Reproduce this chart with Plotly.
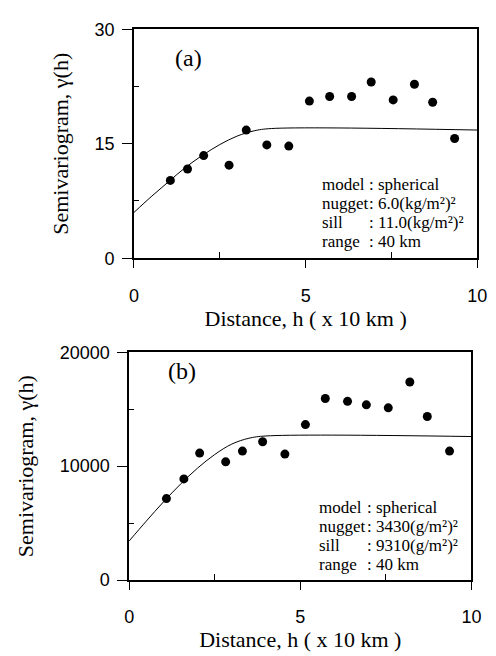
import plotly.graph_objects as go

# ---- data ----
# panel (a)
h_a = [1.06, 1.56, 2.03, 2.77, 3.27, 3.87, 4.51, 5.11, 5.70, 6.34, 6.91, 7.55, 8.17, 8.70, 9.34]
g_a = [10.2, 11.7, 13.45, 12.2, 16.8, 14.85, 14.7, 20.6, 21.2, 21.2, 23.1, 20.75, 22.8, 20.45, 15.7]
model_h_a = [0, 0.5, 1, 1.5, 2, 2.5, 3, 3.5, 4, 10]
model_g_a = [6.0, 8.06, 10.0, 11.9, 13.5, 14.9, 16.0, 16.7, 17.0, 16.8]

# panel (b)
h_b = [1.09, 1.60, 2.06, 2.82, 3.31, 3.90, 4.55, 5.15, 5.73, 6.38, 6.93, 7.57, 8.20, 8.71, 9.36]
g_b = [7150, 8880, 11150, 10380, 11320, 12140, 11060, 13650, 15940, 15690, 15380, 15120, 17390, 14360, 11320]
model_h_b = [0, 0.5, 1, 1.5, 2, 2.5, 3, 3.5, 4, 10]
model_g_b = [3430, 5170, 6850, 8420, 9830, 11020, 11940, 12450, 12650, 12600]

xticks = [0, 5, 10]
yticks_a = [0, 15, 30]
yticks_b = [0, 10000, 20000]

label_lines = ["model", "nugget", "sill", "range"]
value_lines_a = [": spherical", ": 6.0(kg/m²)²", ": 11.0(kg/m²)²", ": 40 km"]
value_lines_b = [": spherical", ": 3430(g/m²)²", ": 9310(g/m²)²", ": 40 km"]

W, H = 496, 656
SERIF = "Liberation Serif"
SANS = "Liberation Sans"

fig = go.Figure()
fig.add_trace(go.Scatter(x=model_h_a, y=model_g_a, mode="lines", line=dict(color="black", width=1, shape="spline"),
                         xaxis="x", yaxis="y", showlegend=False))
fig.add_trace(go.Scatter(x=h_a, y=g_a, mode="markers", marker=dict(color="black", size=9),
                         xaxis="x", yaxis="y", showlegend=False))
fig.add_trace(go.Scatter(x=model_h_b, y=model_g_b, mode="lines", line=dict(color="black", width=1, shape="spline"),
                         xaxis="x2", yaxis="y2", showlegend=False))
fig.add_trace(go.Scatter(x=h_b, y=g_b, mode="markers", marker=dict(color="black", size=9),
                         xaxis="x2", yaxis="y2", showlegend=False))


def xax(domain, anchor):
    return dict(domain=domain, anchor=anchor, range=[0, 10], tickvals=xticks,
                ticks="outside", ticklen=8, tickwidth=1.2, tickcolor="black",
                minor=dict(tickvals=[2.5, 7.5], ticks="inside", ticklen=6, tickwidth=1.2, tickcolor="black"),
                showline=True, linecolor="black", linewidth=1.5, mirror=True,
                showgrid=False, zeroline=False, ticklabelstandoff=12,
                tickfont=dict(family=SANS, size=18, color="black"),
                title=dict(text="Distance, h ( x 10 km )", font=dict(family=SERIF, size=22, color="black"), standoff=2))


def yax(domain, anchor, rng, ticks, minor_vals):
    return dict(domain=domain, anchor=anchor, range=rng, tickvals=ticks, tickformat="d",
                ticks="outside", ticklen=10, tickwidth=1.2, tickcolor="black",
                minor=dict(tickvals=minor_vals, ticks="inside", ticklen=5, tickwidth=1.2, tickcolor="black"),
                showline=True, linecolor="black", linewidth=1.5, mirror=True,
                showgrid=False, zeroline=False, ticklabelstandoff=4,
                tickfont=dict(family=SANS, size=18, color="black"),
                title=dict(text="Semivariogram, γ(h)", font=dict(family=SERIF, size=22, color="black"), standoff=20))


fig.update_layout(
    width=W, height=H, margin=dict(l=0, r=0, t=0, b=0),
    paper_bgcolor="white", plot_bgcolor="white",
    xaxis=xax([133 / W, 487 / W], "y"),
    yaxis=yax([1 - 256 / H, 1 - 20 / H], "x", [0, 30], yticks_a, [7.5, 22.5]),
    xaxis2=xax([128 / W, 481 / W], "y2"),
    yaxis2=yax([1 - 588 / H, 1 - 353 / H], "x2", [0, 20000], yticks_b, [5000, 15000]),
)

ann = []
ann.append(dict(x=1.59, y=26.3, xref="x", yref="y", text="(a)", showarrow=False,
                font=dict(family=SERIF, size=24, color="black")))
ann.append(dict(x=1.54, y=18350, xref="x2", yref="y2", text="(b)", showarrow=False,
                font=dict(family=SERIF, size=24, color="black")))


def box(lx, vx, y0, values):
    for i, (lab, val) in enumerate(zip(label_lines, values)):
        yy = 1 - (y0 + 19.5 * i) / H
        ann.append(dict(x=lx / W, y=yy, xref="paper", yref="paper", text=lab, showarrow=False,
                        xanchor="left", yanchor="middle", font=dict(family=SERIF, size=17, color="black")))
        ann.append(dict(x=vx / W, y=yy, xref="paper", yref="paper", text=val, showarrow=False,
                        xanchor="left", yanchor="middle", font=dict(family=SERIF, size=17, color="black")))


box(325, 373, 180, value_lines_a)
box(322, 371, 513, value_lines_b)
fig.update_layout(annotations=ann)

fig.write_html("out.html", post_script="document.body.style.margin='0';",
               config={"displayModeBar": False})
